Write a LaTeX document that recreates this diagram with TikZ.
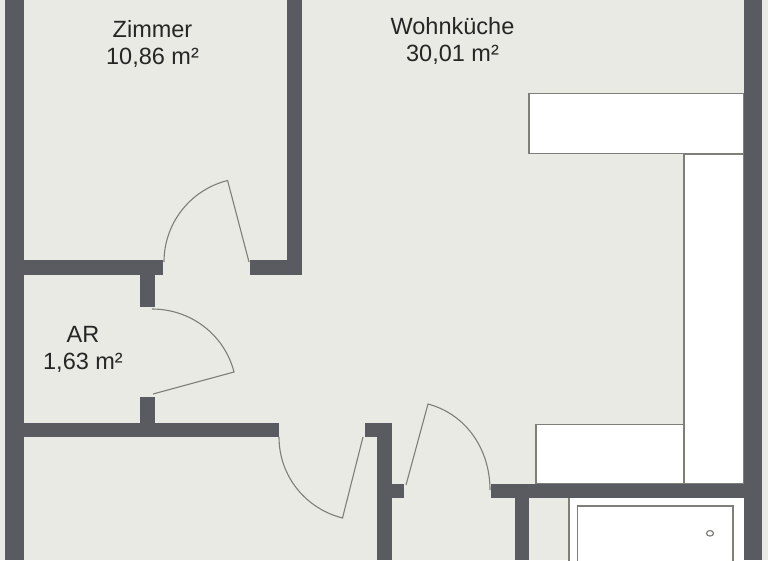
\documentclass[tikz,border=0pt]{standalone}
\usepackage{fontspec}
\setmainfont{Liberation Sans}
\definecolor{floorc}{HTML}{E9EAE3}
\definecolor{wallc}{HTML}{5A5B61}
\definecolor{linec}{HTML}{7F7F79}
\tikzset{
  wall/.style={fill=wallc,draw=none},
  fixture/.style={fill=white,draw=linec,line width=1.6pt},
  doorline/.style={draw=linec,line width=1.1pt},
  roomlabel/.style={align=center,text=black!85,inner sep=0pt,font=\fontsize{23.5}{27}\selectfont}
}
\begin{document}
\begin{tikzpicture}[x=1pt,y=-1pt]
\useasboundingbox (0,0) rectangle (768,560);
\begin{scope}
\clip (0,0) rectangle (768,560);
\fill[floorc] (0,0) rectangle (768,560);
% fixtures
\draw[fixture] (529,93.5) rectangle (744,153.5);
\draw[fixture] (684,154) rectangle (744,484);
\draw[fixture] (536,424.5) rectangle (683.5,484);
% bathroom
\fill[white] (569,498) rectangle (744,565);
\draw[linec,line width=1.4pt] (569,498) -- (569,565);
\draw[fixture] (577.5,506) rectangle (733,575);
\draw[linec,line width=1.2pt] (710,533.3) ellipse (3.5 and 2.8);
% walls
\fill[wall] (5,0) rectangle (24,560);
\fill[wall] (744,0) rectangle (762,560);
\fill[wall] (287,0) rectangle (302,275);
\fill[wall] (24,260) rectangle (163,275);
\fill[wall] (250,260) rectangle (302,275);
\fill[wall] (140,275) rectangle (155,307);
\fill[wall] (140,397) rectangle (155,423);
\fill[wall] (24,422.5) rectangle (279,437);
\fill[wall] (365,422.5) rectangle (392,437);
\fill[wall] (377,437) rectangle (392,560);
\fill[wall] (392,484) rectangle (404,498);
\fill[wall] (491,484) rectangle (744,498);
\fill[wall] (515,498) rectangle (529,560);
% doors
\draw[doorline] (249,262) -- (227.6,180.5) .. controls (190.1,189.9) and (164,223.4) .. (164,262);
\draw[doorline] (153,394) -- (234,372) .. controls (224.4,334.5) and (190.6,309) .. (152,309);
\draw[doorline] (363,437) -- (342.5,518) .. controls (305.1,508.5) and (279,475.6) .. (279,437);
\draw[doorline] (406,485) -- (428,404) .. controls (465.3,413.9) and (490,448.4) .. (490,490);
\end{scope}
% labels
\node[roomlabel] (zimmer) at (152.5,44) {Zimmer\\10,86 m²};
\node[roomlabel] (wohn) at (452.5,41) {Wohnküche\\30,01 m²};
\node[roomlabel] (ar) at (83,349.5) {AR\\1,63 m²};
\end{tikzpicture}
\end{document}
